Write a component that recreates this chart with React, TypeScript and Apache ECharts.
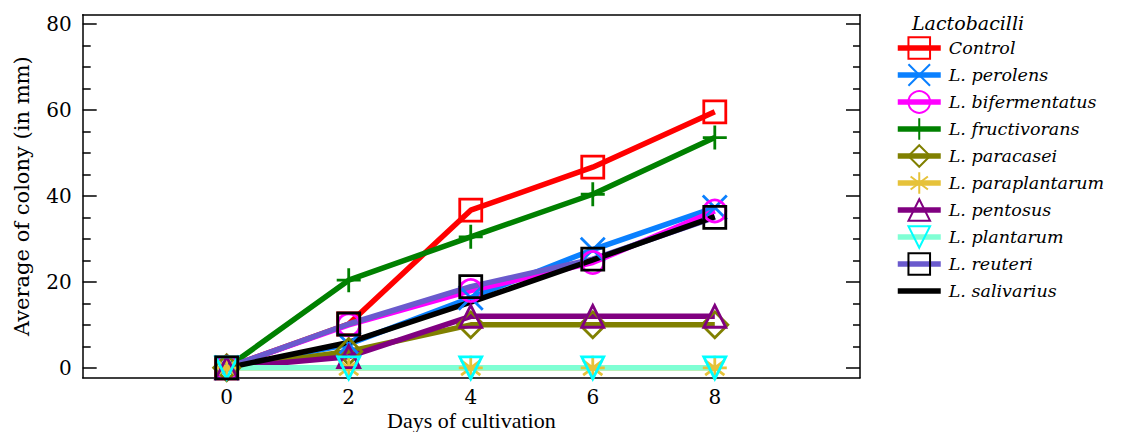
import React, { useEffect, useRef } from "react";
import * as echarts from "echarts";

const days = [0, 2, 4, 6, 8];
const control = [0, 10.2, 36.7, 46.7, 59.6];
const perolens = [0, 5.5, 16.3, 27.5, 37.3];
const bifermentatus = [0, 10, 18, 24.5, 36.5];
const fructivorans = [0, 20.4, 30.5, 40.4, 53.6];
const paracasei = [0, 3.8, 10, 10, 10];
const paraplantarum = [0, 0, 0, 0, 0];
const pentosus = [0, 2.6, 12, 12, 12];
const plantarum = [0, 0, 0, 0, 0];
const reuteri = [0, 10.2, 18.9, 25.3, 35.0];
const salivarius = [0, 5.9, 15.3, 25.1, 35.2];

const yMajor = [0, 20, 40, 60, 80];
const yMinor = [5, 10, 15, 25, 30, 35, 45, 50, 55, 65, 70, 75];
const xLabels = [0, 2, 4, 6, 8];

const FONT_A = "'Liberation Serif'";
const FONT_B = "DejaVu Serif";

const SYM_X = "path://M0,0L10,10M10,0L0,10";
const SYM_PLUS = "path://M5,0L5,10M0,5L10,5";
const SYM_AST = "path://M5,0L5,10M0,5L10,5M1,2L9,8M9,2L1,8";

const defs = [
  { name: "Control", data: control, line: "#FF0000", mark: "#FF0000", symbol: "rect", size: 22, rot: 0 },
  { name: "L. perolens", data: perolens, line: "#0A80FF", mark: "#0A80FF", symbol: SYM_X, size: 24, rot: 0 },
  { name: "L. bifermentatus", data: bifermentatus, line: "#FF00FF", mark: "#FF00FF", symbol: "circle", size: 22, rot: 0 },
  { name: "L. fructivorans", data: fructivorans, line: "#008000", mark: "#008000", symbol: SYM_PLUS, size: 24, rot: 0 },
  { name: "L. paracasei", data: paracasei, line: "#808000", mark: "#808000", symbol: "diamond", size: 26, rot: 0 },
  { name: "L. paraplantarum", data: paraplantarum, line: "#E6C23A", mark: "#E6C23A", symbol: SYM_AST, size: 24, rot: 0 },
  { name: "L. pentosus", data: pentosus, line: "#800080", mark: "#800080", symbol: "triangle", size: 22, rot: 0 },
  { name: "L. plantarum", data: plantarum, line: "#7FFFD4", mark: "#00FFFF", symbol: "triangle", size: 22, rot: 180 },
  { name: "L. reuteri", data: reuteri, line: "#6A5ACD", mark: "#000000", symbol: "rect", size: 22, rot: 0 },
  { name: "L. salivarius", data: salivarius, line: "#000000", mark: "rgba(0,0,0,0)", symbol: "none", size: 2, rot: 0 },
];

export default function App() {
  const ref = useRef<HTMLDivElement>(null);
  useEffect(() => {
    document.body.style.margin = "0";
    const chart = echarts.init(ref.current!, null, { renderer: "svg" });
    const yMin = -2.3;
    const yMax = 82.2;
    const axisLineStyle = { color: "#000", width: 1.5 };
    const series = defs.map((d) => ({
      name: d.name,
      type: "line",
      data: d.data.map((v, i) => [days[i], v]),
      xAxisIndex: 0,
      yAxisIndex: 0,
      symbol: d.symbol,
      symbolSize: d.size,
      symbolRotate: d.rot,
      symbolKeepAspect: true,
      showAllSymbol: true,
      clip: false,
      lineStyle: { color: d.line, width: 5.5 },
      itemStyle: { color: "rgba(0,0,0,0)", borderColor: d.mark, borderWidth: 2.8 },
      emphasis: { disabled: true },
    }));
    chart.setOption({
      animation: false,
      backgroundColor: "#fff",
      textStyle: { fontFamily: FONT_B },
      grid: { left: 82.7, right: 261, top: 14.7, bottom: 54.3, containLabel: false, outerBoundsMode: "none" },
      graphic: [
        {
          type: "text",
          left: 912,
          top: 13,
          style: { text: "Lactobacilli", fontFamily: FONT_B, fontStyle: "italic", fontSize: 19, fill: "#000" },
        },
      ],
      legend: {
        orient: "vertical",
        left: 890,
        top: 29.5,
        itemWidth: 43,
        itemHeight: 27,
        itemGap: 0,
        lineStyle: { width: 5.5 },
        textStyle: { fontFamily: FONT_B, fontStyle: "italic", fontSize: 17.5, color: "#000", lineHeight: 27, padding: [0, 0, 0, 3] },
        data: defs.map((d) => d.name),
      },
      xAxis: [
        {
          type: "value",
          position: "bottom",
          min: -2.36,
          max: 10.38,
          axisLine: { show: true, onZero: false, lineStyle: axisLineStyle },
          axisTick: { show: false },
          splitLine: { show: false },
          axisLabel: { customValues: xLabels, fontSize: 20, color: "#000", fontFamily: FONT_B, margin: 9 },
          name: "Days of cultivation",
          nameLocation: "middle",
          nameGap: 32,
          nameMoveOverlap: false,
          nameTextStyle: { fontSize: 22, color: "#000", fontFamily: FONT_A },
        },
        {
          type: "value",
          position: "top",
          min: -2.36,
          max: 10.38,
          axisLine: { show: true, onZero: false, lineStyle: axisLineStyle },
          axisTick: { show: false },
          axisLabel: { show: false },
          splitLine: { show: false },
        },
      ],
      yAxis: [
        {
          type: "value",
          position: "left",
          min: yMin,
          max: yMax,
          axisLine: { show: true, onZero: false, lineStyle: axisLineStyle },
          axisTick: { show: true, inside: true, length: 14, customValues: yMajor, lineStyle: axisLineStyle },
          axisLabel: { customValues: yMajor, fontSize: 20, color: "#000", fontFamily: FONT_B, margin: 11 },
          splitLine: { show: false },
          name: "Average of colony (in mm)",
          nameLocation: "middle",
          nameGap: 50,
          nameRotate: 90,
          nameMoveOverlap: false,
          nameTextStyle: { fontSize: 21, color: "#000", fontFamily: FONT_B },
        },
        {
          type: "value",
          position: "left",
          min: yMin,
          max: yMax,
          axisLine: { show: false, onZero: false },
          axisTick: { show: true, inside: true, length: 8, customValues: yMinor, lineStyle: axisLineStyle },
          axisLabel: { show: false },
          splitLine: { show: false },
        },
        {
          type: "value",
          position: "right",
          min: yMin,
          max: yMax,
          axisLine: { show: true, onZero: false, lineStyle: axisLineStyle },
          axisTick: { show: true, inside: true, length: 14, customValues: yMajor, lineStyle: axisLineStyle },
          axisLabel: { show: false },
          splitLine: { show: false },
        },
        {
          type: "value",
          position: "right",
          min: yMin,
          max: yMax,
          axisLine: { show: false, onZero: false },
          axisTick: { show: true, inside: true, length: 7, customValues: yMinor, lineStyle: axisLineStyle },
          axisLabel: { show: false },
          splitLine: { show: false },
        },
      ],
      series,
    });
    return () => chart.dispose();
  }, []);
  return <div ref={ref} style={{ width: 1121, height: 432 }} />;
}
